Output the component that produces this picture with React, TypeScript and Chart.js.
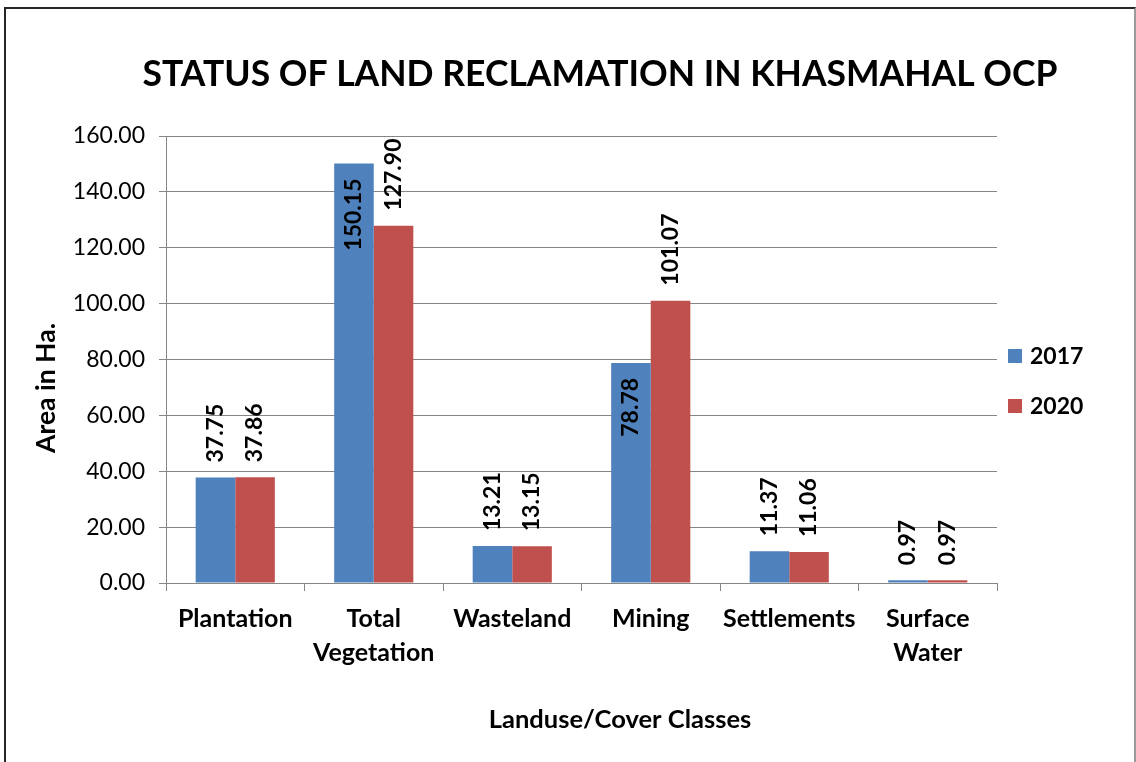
import React, { useEffect, useRef } from "react";
import { Chart, registerables } from "chart.js";

Chart.register(...registerables);

const categories: (string | string[])[] = [
  "Plantation",
  ["Total", "Vegetation"],
  "Wasteland",
  "Mining",
  "Settlements",
  ["Surface", "Water"],
];
const values2017 = [37.75, 150.15, 13.21, 78.78, 11.37, 0.97];
const values2020 = [37.86, 127.9, 13.15, 101.07, 11.06, 0.97];
const seriesNames = ["2017", "2020"];
const yTicks = [0, 20, 40, 60, 80, 100, 120, 140, 160];

const TITLE = "STATUS OF LAND RECLAMATION IN KHASMAHAL OCP";
const X_TITLE = "Landuse/Cover Classes";
const Y_TITLE = "Area in Ha.";

const FONT = "Lato, 'Open Sans', sans-serif";
const GRID = "#868686";

const overlayPlugin = {
  id: "overlay",
  afterDatasetsDraw(chart: any, _args: any, opts: any) {
    const ctx = chart.ctx as CanvasRenderingContext2D;
    chart.data.datasets.forEach((ds: any, di: number) => {
      const meta = chart.getDatasetMeta(di);
      meta.data.forEach((bar: any, i: number) => {
        const v = ds.data[i] as number;
        const inside = opts.insideEnd.includes(`${di}:${i}`);
        ctx.save();
        ctx.translate(bar.x, inside ? bar.y + opts.gap : bar.y - opts.gap);
        ctx.rotate(-Math.PI / 2);
        ctx.textAlign = inside ? "right" : "left";
        ctx.textBaseline = "middle";
        ctx.font = `bold 23px ${FONT}`;
        ctx.fillStyle = "#000";
        ctx.fillText(v.toFixed(2), 0, 0);
        ctx.restore();
      });
    });
  },
  afterDraw(chart: any, _args: any, opts: any) {
    const ctx = chart.ctx as CanvasRenderingContext2D;
    ctx.save();
    ctx.fillStyle = "#000";
    ctx.textBaseline = "middle";
    ctx.textAlign = "center";
    // main title
    ctx.font = `bold ${opts.title.size}px ${FONT}`;
    ctx.fillText(opts.title.text, opts.title.x, opts.title.y);
    // x axis title
    ctx.font = `bold ${opts.xTitle.size}px ${FONT}`;
    ctx.fillText(opts.xTitle.text, opts.xTitle.x, opts.xTitle.y);
    // y axis title
    ctx.save();
    ctx.translate(opts.yTitle.x, opts.yTitle.y);
    ctx.rotate(-Math.PI / 2);
    ctx.font = `bold ${opts.yTitle.size}px ${FONT}`;
    ctx.fillText(opts.yTitle.text, 0, 0);
    ctx.restore();
    // legend
    const lg = opts.legend;
    chart.data.datasets.forEach((ds: any, di: number) => {
      const cy = lg.top + di * lg.spacing;
      ctx.fillStyle = ds.backgroundColor;
      ctx.fillRect(lg.left, cy - lg.box / 2, lg.box, lg.box);
      ctx.fillStyle = "#000";
      ctx.textAlign = "left";
      ctx.font = `bold ${lg.size}px ${FONT}`;
      ctx.fillText(ds.label, lg.left + lg.box + lg.textGap, cy + 1);
    });
    ctx.restore();
  },
};

export default function App() {
  const canvasRef = useRef<HTMLCanvasElement | null>(null);

  useEffect(() => {
    if (!canvasRef.current) return;
    const chart = new Chart(canvasRef.current, {
      type: "bar",
      data: {
        labels: categories,
        datasets: [
          {
            label: seriesNames[0],
            data: values2017,
            backgroundColor: "#4F81BD",
            categoryPercentage: 2 / 3.5,
            barPercentage: 1,
          },
          {
            label: seriesNames[1],
            data: values2020,
            backgroundColor: "#C0504D",
            categoryPercentage: 2 / 3.5,
            barPercentage: 1,
          },
        ],
      },
      options: {
        responsive: false,
        animation: false,
        devicePixelRatio: 1,
        layout: { padding: { left: 60, top: 127, right: 137, bottom: 79 } },
        plugins: {
          legend: { display: false },
          title: { display: false },
          tooltip: { enabled: false },
          overlay: {
            gap: 15,
            insideEnd: ["0:1", "0:3"],
            title: { text: TITLE, x: 594, y: 66, size: 35.5 },
            xTitle: { text: X_TITLE, x: 614, y: 711, size: 25.5 },
            yTitle: { text: Y_TITLE, x: 40, y: 379, size: 26.5 },
            legend: { left: 1002, top: 347, spacing: 50, box: 14, textGap: 8, size: 23 },
          },
        } as any,
        scales: {
          x: {
            afterFit: (s: any) => {
              s.height = 100;
            },
            grid: {
              drawOnChartArea: false,
              drawTicks: true,
              tickLength: 8,
              color: GRID,
              offset: true,
            },
            border: { color: GRID },
            ticks: {
              color: "#000",
              padding: 11,
              maxRotation: 0,
              autoSkip: false,
              font: { family: FONT, size: 25, weight: "bold", lineHeight: 34 / 25 },
            },
          },
          y: {
            min: 0,
            max: 160,
            afterFit: (s: any) => {
              s.width = 100;
            },
            afterBuildTicks: (s: any) => {
              s.ticks = yTicks.map((v) => ({ value: v }));
            },
            grid: { color: GRID, tickLength: 7, drawTicks: true },
            border: { color: GRID },
            ticks: {
              color: "#000",
              padding: 14,
              font: { family: FONT, size: 23 },
              callback: (v: any) => Number(v).toFixed(2),
            },
          },
        },
      },
      plugins: [overlayPlugin],
    });
    return () => chart.destroy();
  }, []);

  return (
    <div
      style={{
        position: "absolute",
        left: 4,
        top: 7,
        width: 1132,
        height: 800,
        boxSizing: "border-box",
        borderLeft: "2px solid #262626",
        borderTop: "2px solid #262626",
        borderRight: "2px solid #9a9a9a",
        background: "#fff",
      }}
    >
      <canvas
        ref={canvasRef}
        width={1128}
        height={753}
        style={{ display: "block", width: 1128, height: 753 }}
      />
    </div>
  );
}
